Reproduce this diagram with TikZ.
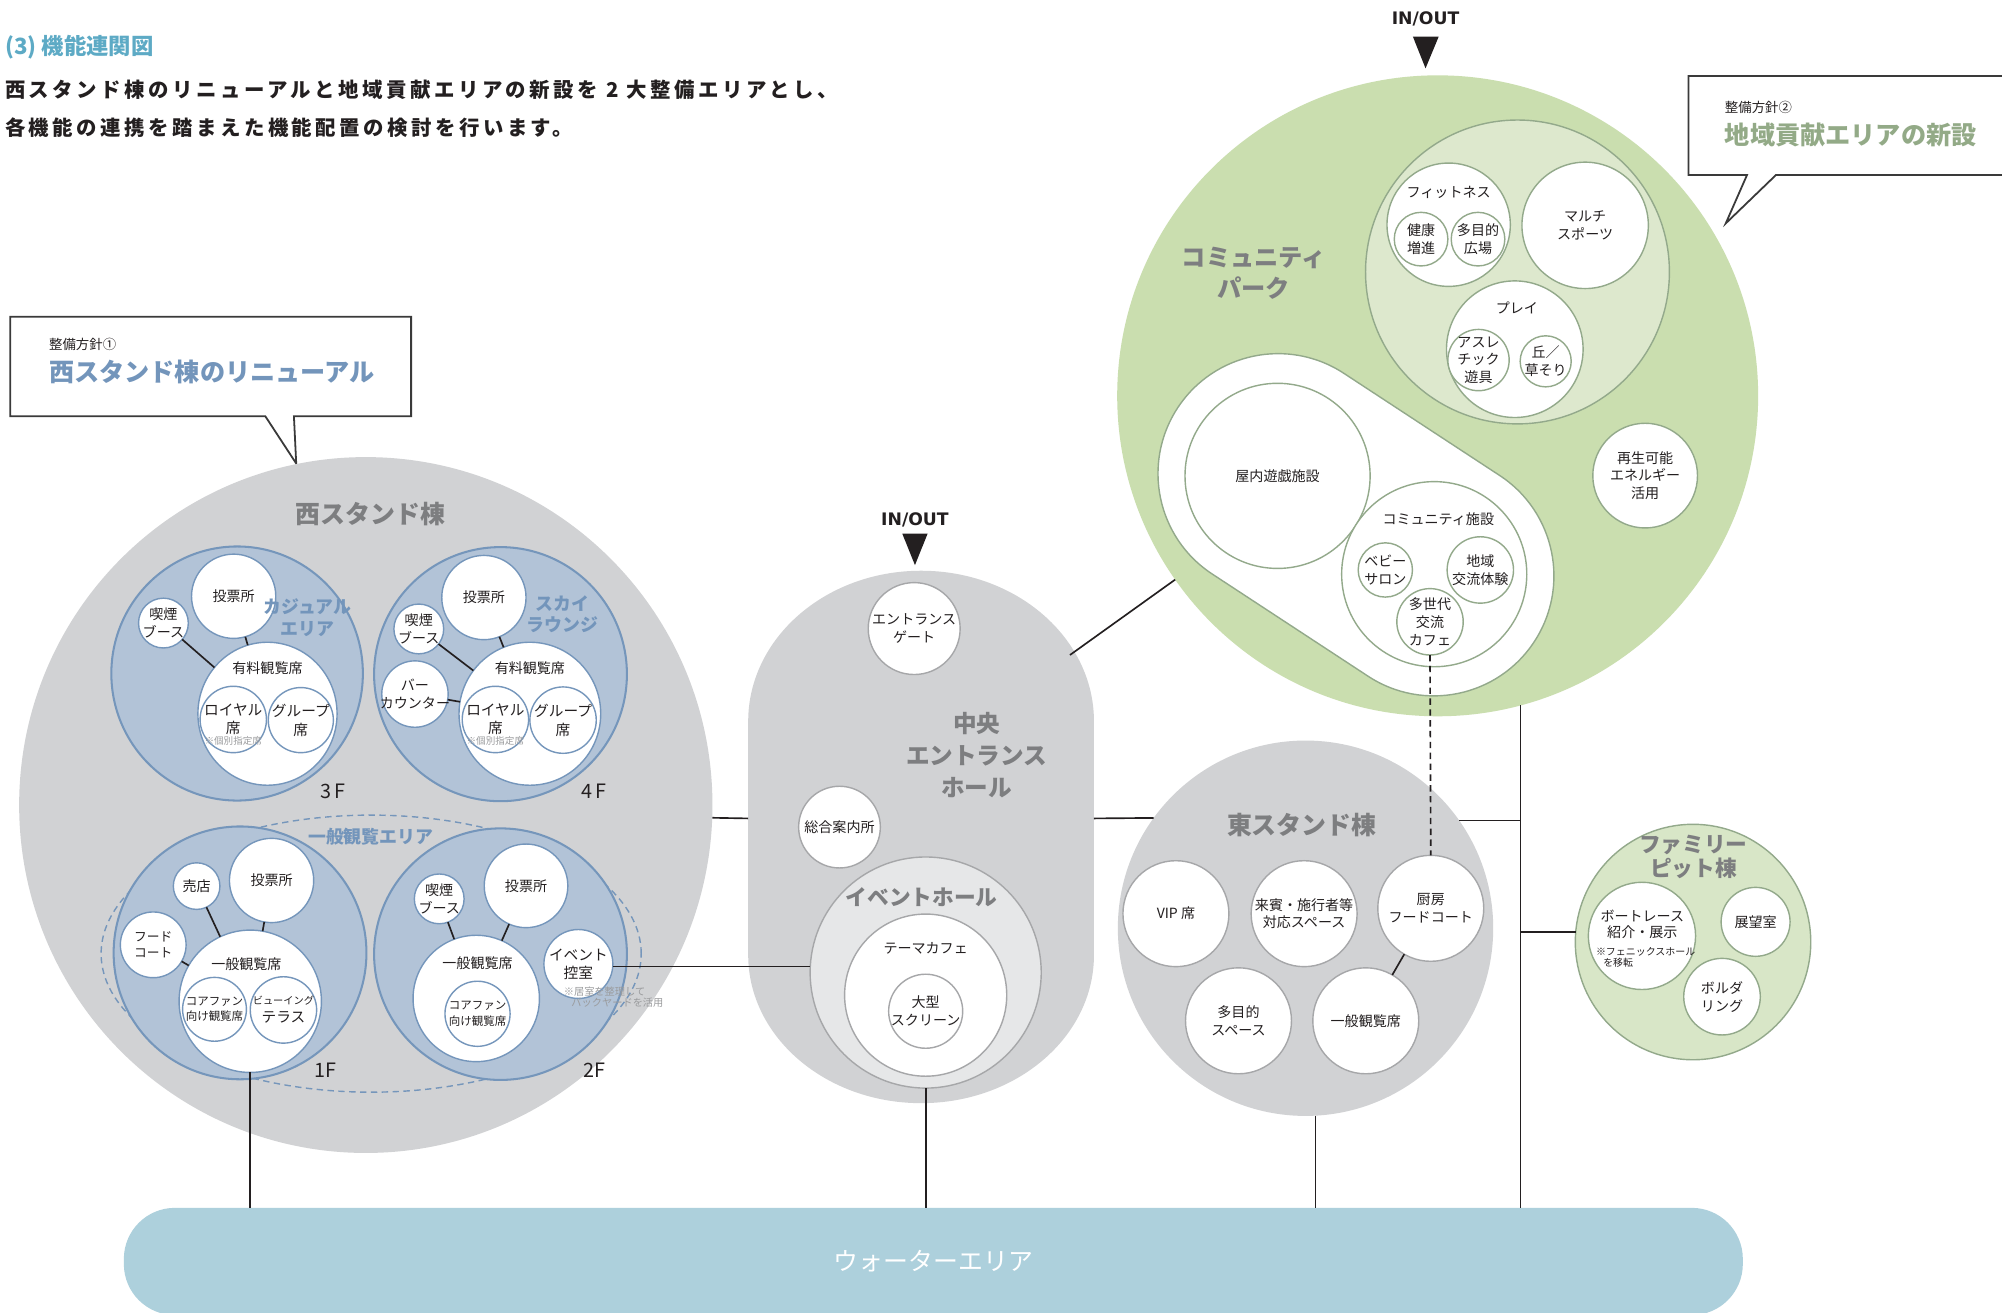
\documentclass[tikz,border=0pt]{standalone}
\usepackage{fontspec}
\setmainfont{Noto Sans CJK JP}
\newfontfamily\dvs{DejaVu Sans}
\usetikzlibrary{shapes.geometric,calc}
\newcommand\fz[2]{\fontsize{#1}{#2}\selectfont}
\definecolor{ink}{HTML}{231F20}
\definecolor{gfill}{HTML}{D1D2D4}
\definecolor{gtext}{HTML}{7D7E80}
\definecolor{gline}{HTML}{A6A7A9}
\definecolor{bfill}{HTML}{B2C3D7}
\definecolor{bline}{HTML}{7596BB}
\definecolor{btext}{HTML}{7395BB}
\definecolor{cfill}{HTML}{CADEAF}
\definecolor{cpale}{HTML}{DDE8CD}
\definecolor{cline}{HTML}{93A98B}
\definecolor{ctext}{HTML}{93AA87}
\definecolor{ffill}{HTML}{D8E6C7}
\definecolor{ehfill}{HTML}{E6E7E8}
\definecolor{water}{HTML}{ADD0DC}
\definecolor{ttl}{HTML}{5DAAC5}
\definecolor{ntgray}{HTML}{9A9B9D}
\definecolor{cogray}{HTML}{3A3A3A}
\begin{document}
\begin{tikzpicture}[x=1pt,y=-1pt,
 every node/.style={inner sep=0pt,outer sep=0pt,align=center,text=ink,font=\fz{11}{14}},
 T/.style={label={center:{#1}}},
 Tf/.style 2 args={label={[font=#1]center:{#2}}},
 ln/.style={draw=ink,line width=1.3pt},
 co/.style={fill=white,draw=cogray,line width=1.4pt,line join=miter},
 bc/.style={circle,fill=white,draw=bline,line width=1.1pt,minimum size=#1},
 gc/.style={circle,fill=white,draw=gline,line width=1.1pt,minimum size=#1},
 cc/.style={circle,fill=white,draw=cline,line width=1.1pt,minimum size=#1},
 flr/.style={ellipse,fill=bfill,draw=bline,line width=1.6pt},
 wel/.style={ellipse,fill=white,draw=bline,line width=1.1pt},
 hd/.style={font=\bfseries\fz{19.5}{25.5},text=gtext},
 bt/.style={font=\bfseries\fz{14}{17},text=btext},
 nt/.style={font=\fz{7.5}{8.5},text=ntgray},
 flab/.style={font=\fz{15.5}{16}},
 io/.style={font=\dvs\bfseries\fz{13.5}{14}},
 lead/.style={anchor=west,font=\bfseries\fz{16}{16}\addfontfeature{LetterSpace=17}},
]
\useasboundingbox (0,0) rectangle (1568,1028);
\clip (0,0) rectangle (1568,1028);
\fill[white] (0,0) rectangle (1568,1028);

% ---------- header
\node[anchor=west,font=\bfseries\fz{17.5}{18},text=ttl] (title) at (4,37) {(3) 機能連関図};
\node[lead] (lead1) at (4,70) {西スタンド棟のリニューアルと地域貢献エリアの新設を 2 大整備エリアとし、};
\node[lead] (lead2) at (4,100) {各機能の連携を踏まえた機能配置の検討を行います。};

% ---------- callouts
\draw[co] (8,248) -- (322,248) -- (322,326) -- (230.2,326) -- (232,363) -- (207.8,326) -- (8,326) -- cycle;
\node[anchor=west,font=\fz{10.5}{11}] (co1a) at (38.5,270) {整備方針①};
\node[anchor=west,font=\bfseries\fz{19.7}{20},text=btext] (co1b) at (38.5,291.5) {西スタンド棟のリニューアル};
\draw[co] (1322.4,59.5) -- (1600,59.5) -- (1600,137) -- (1391,137) -- (1351.6,175) -- (1368.3,137) -- (1322.4,137) -- cycle;
\node[anchor=west,font=\fz{10.5}{11}] (co2a) at (1351,84) {整備方針②};
\node[anchor=west,font=\bfseries\fz{19.7}{20},text=ctext] (co2b) at (1351,105.5) {地域貢献エリアの新設};

% ---------- water
\node[rectangle,rounded corners=40pt,fill=water,minimum width=1268,minimum height=84,text=white,font=\fz{19.5}{20}] (water) at (731,988) {ウォーターエリア};

% ---------- west stand
\node[ellipse,fill=gfill,minimum width=543,minimum height=545] (west) at (286.5,630.5) {};
\node[hd] (westT) at (290,402.5) {西スタンド棟};
% 3F
\node[flr,minimum width=197,minimum height=199] (f3) at (185.7,527.5) {};
\node[bc=66,T=投票所] (f3vote) at (183,467) {};
\node[bc=39,T={喫煙\\ブース}] (f3smk) at (128,488) {};
\node[wel,minimum width=109,minimum height=112] (f3paid) at (209.5,559) {};
\node (f3paidT) at (209.5,523.5) {有料観覧席};
\node[bc=52,Tf={\fz{11.5}{14}}{ロイヤル\\席}] (f3roy) at (182.7,563.5) {};
\node[nt] (f3royN) at (182.7,580.5) {※個別指定席};
\node[bc=51,Tf={\fz{11.5}{15}}{グループ\\席}] (f3grp) at (235.6,564) {};
\node[bt] (f3area) at (241,484) {カジュアル\\エリア};
\node[flab] (f3F) at (261,620) {3\,F};
\draw[ln] (f3smk) -- (f3paid);
\draw[ln] (f3vote) -- (f3paid);
% 4F
\node[flr,minimum width=198,minimum height=199] (f4) at (392,528) {};
\node[bc=66,T=投票所] (f4vote) at (379,468) {};
\node[bc=39,T={喫煙\\ブース}] (f4smk) at (328,492.6) {};
\node[bc=52,T={バー\\カウンター}] (f4bar) at (325,543.6) {};
\node[wel,minimum width=111,minimum height=112] (f4paid) at (415,559) {};
\node (f4paidT) at (415,523.5) {有料観覧席};
\node[bc=52,Tf={\fz{11.5}{14}}{ロイヤル\\席}] (f4roy) at (388,563.5) {};
\node[nt] (f4royN) at (388,580.5) {※個別指定席};
\node[bc=52,Tf={\fz{11.5}{15}}{グループ\\席}] (f4grp) at (441,564) {};
\node[bt] (f4area) at (440.5,481) {スカイ\\ラウンジ};
\node[flab] (f4F) at (465,620) {4\,F};
\draw[ln] (f4smk) -- (f4paid);
\draw[ln] (f4vote) -- (f4paid);
\draw[ln] (f4bar) -- (f4paid);
% general area
\node[ellipse,draw=bline,line width=1.1pt,dash pattern=on 5pt off 3.5pt,minimum width=423,minimum height=217] (gen) at (290.7,746.9) {};
\node[bt] (genT) at (290.4,655.5) {一般観覧エリア};
% 1F
\node[flr,minimum width=198,minimum height=198] (f1) at (188,746.3) {};
\node[bc=66,T=投票所] (f1vote) at (212.7,689.6) {};
\node[bc=36.5,T=売店] (f1shop) at (154,694) {};
\node[bc=51.5,Tf={\fz{10}{12}}{フード\\コート}] (f1food) at (120,740) {};
\node[bc=111.5] (f1gen) at (196,784.2) {};
\node (f1genT) at (193,755) {一般観覧席};
\node[bc=50,Tf={\fz{9}{12}}{コアファン\\向け観覧席}] (f1core) at (168,790.5) {};
\node[bc=52,T={{\fz{8}{12}ビューイング}\\{\fz{11.5}{13}テラス}}] (f1view) at (222,791) {};
\node[flab] (f1F) at (255,838) {1F};
\draw[ln] (f1shop) -- (f1gen);
\draw[ln] (f1vote) -- (f1gen);
\draw[ln] (f1food) -- (f1gen);
% 2F
\node[flr,minimum width=198,minimum height=197] (f2) at (392,747.3) {};
\node[bc=39,T={喫煙\\ブース}] (f2smk) at (344,704) {};
\node[bc=65.5,T=投票所] (f2vote) at (412,693.8) {};
\node[bc=99] (f2gen) at (373,782) {};
\node (f2genT) at (374,754.5) {一般観覧席};
\node[bc=51,Tf={\fz{9}{12}}{コアファン\\向け観覧席}] (f2core) at (374,794) {};
\node[bc=54,Tf={\fz{11.5}{14}}{イベント\\控室}] (f2evt) at (453,755) {};
\node[nt,anchor=west,align=left,font=\fz{8}{8.6}] (f2evtN) at (441.6,781) {※居室を整理して\\\hspace*{6pt}バックヤードを活用};
\node[flab] (f2F) at (465.7,838) {2F};
\draw[ln] (f2smk) -- (f2gen);
\draw[ln] (f2vote) -- (f2gen);

% ---------- central entrance hall
\fill[gfill] (586,565) arc[start angle=180,end angle=360,x radius=135.4,y radius=118]
  -- (856.8,748) arc[start angle=0,end angle=180,x radius=135.4,y radius=116] -- cycle;
\node[rectangle,minimum width=270.8,minimum height=417] (hall) at (721.4,655.5) {};
\node[io] (io1) at (716.6,407) {IN/OUT};
\fill[ink] (706.7,418) -- (726.5,418) -- (716.6,442.6) -- cycle;
\node[gc=72,T={エントランス\\ゲート}] (gate) at (716,492.3) {};
\node[gc=64,T=総合案内所] (info) at (657.5,647.8) {};
\node[hd,font=\bfseries\fz{18.5}{24.8}] (hallT) at (765,591.5) {中央\\エントランス\\ホール};
\node[circle,fill=ehfill,draw=gline,line width=1.1pt,minimum size=181] (ehall) at (725,761.7) {};
\node[hd,font=\bfseries\fz{17}{17}] (ehallT) at (721.8,703) {イベントホール};
\node[gc=127] (cafe) at (725,779.4) {};
\node (cafeT) at (725,743) {テーマカフェ};
\node[gc=58,T={大型\\スクリーン}] (scr) at (725,792) {};
\draw[ln] (f2evt.-4) -- (f2evt.-4 -| ehall.west);

% ---------- east stand
\node[circle,fill=gfill,minimum size=294] (east) at (1022.5,727) {};
\node[hd] (eastT) at (1019.5,646) {東スタンド棟};
\node[gc=83,T={VIP 席}] (vip) at (921,715.6) {};
\node[gc=83,T={来賓・施行者等\\対応スペース}] (guest) at (1021.4,715.6) {};
\node[gc=83,T={厨房\\フードコート}] (kit) at (1120.6,711.4) {};
\node[gc=83,T={多目的\\スペース}] (multi) at (970,799.5) {};
\node[gc=83,T=一般観覧席] (genE) at (1069.7,799.5) {};
\draw[ln] (kit) -- (genE);

% ---------- community park
\node[circle,fill=cfill,minimum size=502] (comm) at (1126,310) {};
\node[hd,font=\bfseries\fz{19}{24}] (commT) at (982,214) {コミュニティ\\パーク};
\node[io] (io2) at (1116.5,15) {IN/OUT};
\fill[ink] (1106.6,28.7) -- (1126.8,28.7) -- (1116.5,53.5) -- cycle;
\node[circle,fill=cpale,draw=cline,line width=1.1pt,minimum size=238] (pale) at (1188.5,213) {};
\node[cc=96.6] (fit) at (1134.6,176) {};
\node (fitT) at (1134.6,151) {フィットネス};
\node[cc=42,T={健康\\増進}] (hlth) at (1113,187.3) {};
\node[cc=42,T={多目的\\広場}] (plz) at (1157.6,187.3) {};
\node[cc=99,T={マルチ\\スポーツ}] (msp) at (1241.5,176.5) {};
\node[cc=107] (play) at (1186.4,273.5) {};
\node (playT) at (1188,241.5) {プレイ};
\node[cc=48,Tf={\fz{11}{13.7}}{アスレ\\チック\\遊具}] (ath) at (1158,282) {};
\node[cc=40,T={丘／\\草そり}] (hill) at (1210.6,283) {};
\node[cc=82,Tf={\fz{11}{13.9}}{再生可能\\エネルギー\\活用}] (renew) at (1288.5,372.5) {};
\node[rectangle,rounded corners=94pt,fill=white,draw=cline,line width=1.1pt,minimum width=334,minimum height=188,rotate=-33.25] (caps) at (1062,411) {};
\node[cc=145,T=屋内遊戯施設] (indoor) at (1000.6,372.7) {};
\node[cc=145] (commf) at (1123.3,449.7) {};
\node (commfT) at (1126.5,407) {コミュニティ施設};
\node[cc=42.5,T={ベビー\\サロン}] (baby) at (1085,446.4) {};
\node[cc=52,T={地域\\交流体験}] (local) at (1159.4,446.4) {};
\node[cc=52,T={多世代\\交流\\カフェ}] (cafe3) at (1120,487) {};
\draw[ln,dash pattern=on 5pt off 3.5pt] (cafe3.south) -- (kit.north);

% ---------- family pit
\node[circle,fill=ffill,draw=cline,line width=1.1pt,minimum size=184.4] (fam) at (1326,737.8) {};
\node[hd,font=\bfseries\fz{17}{18.5}] (famT) at (1326.3,671) {ファミリー\\ピット棟};
\node[cc=84] (boat) at (1286,733) {};
\node[font=\fz{11}{12.5}] (boatT) at (1286.3,724.3) {ボートレース\\紹介・展示};
\node[anchor=west,align=left,font=\fz{7.8}{8.6}] (boatN) at (1250,749.7) {※フェニックスホール\\\hspace*{5.7pt}を移転};
\node[cc=54,T=展望室] (obs) at (1375,722) {};
\node[cc=60,T={ボルダ\\リング}] (bould) at (1348.7,780.6) {};

% ---------- main connectors
\coordinate (hallNE) at (838,513);
\draw[ln] (comm.215.6) -- (hallNE);
\draw[ln] ($(west.east)+(0,10)$) -- ($(hall.west)+(0,-14.5)$);
\draw[ln] ($(hall.east)+(0,-14.5)$) -- (east.144.2);
\draw[ln] (comm.-75.2) -- (comm.-75.2 |- water.north);
\draw[ln] (east.35.8) -- (east.35.8 -| comm.-75.2);
\draw[ln] (fam.175) -- (fam.175 -| comm.-75.2);
\draw[ln] (f1gen.south) -- (f1gen.south |- water.north);
\draw[ln] (ehall.south) -- (ehall.south |- water.north);
\draw[ln] (east.-87.5) -- (east.-87.5 |- water.north);
\end{tikzpicture}
\end{document}
